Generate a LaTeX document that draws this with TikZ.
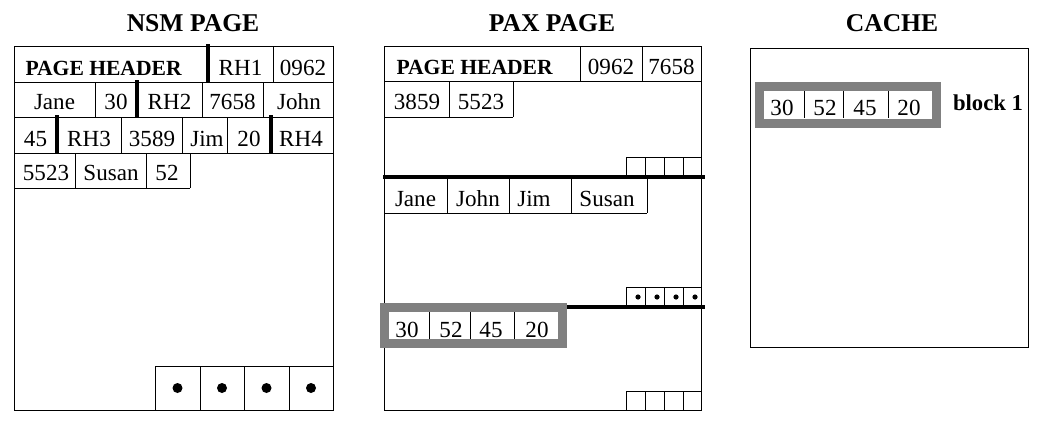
\documentclass[tikz,border=0pt]{standalone}
\usepackage{fontspec}
\setmainfont{Liberation Serif}
\usepackage{tikz}
\usetikzlibrary{shapes,arrows}

\begin{document}
\begin{tikzpicture}[x=0.75pt,y=0.75pt,yscale=-1,line width=0.75pt,
  cell/.style={anchor=base,inner sep=0pt,font=\fontsize{17.3}{19}\selectfont},
  hdr/.style={anchor=base west,inner sep=0pt,font=\fontsize{16.2}{18}\selectfont\bfseries},
  ttl/.style={anchor=base,inner sep=0pt,font=\fontsize{19.2}{21}\selectfont\bfseries},
  bar/.style={line width=3pt},
  rulebar/.style={line width=2.6pt},
  grayframe/.style={draw={rgb,255:red,128;green,128;blue,128},line width=6.75pt}]
\useasboundingbox (0,0) rectangle (1048,425);

%Shape: Rectangle [NSM page]
\draw   (14,46) rectangle (333,410) ;
%Straight Lines [rows]
\draw    (14,82) -- (333,82) (273,46) -- (273,82) ;
\draw    (14,117) -- (333,117) (95,82) -- (95,117) (202,82) -- (202,117) (263,82) -- (263,117) ;
\draw    (14,153) -- (333,153) (121,117) -- (121,153) (182,117) -- (182,153) (227,117) -- (227,153) ;
\draw    (14,188) -- (190,188) (75,153) -- (75,188) (146,153) -- (146,188) (190,153) -- (190,188) ;
%Straight Lines [record headers]
\draw [bar]   (208,44) -- (208,83) ;
\draw [bar]   (137,80) -- (137,118) ;
\draw [bar]   (57,115) -- (57,154) ;
\draw [bar]   (271,115) -- (271,154) ;
%Shape: offset slots
\draw    (155,410) -- (155,366) -- (333,366) (200,366) -- (200,410) (244,366) -- (244,410) (289,366) -- (289,410) ;
\fill    (177.5,388) circle (5) (222,388) circle (5) (266.5,388) circle (5) (311,388) circle (5) ;

%Shape: Rectangle [PAX page]
\draw   (384,46) rectangle (701,410) ;
%Straight Lines [header and first minipage]
\draw    (384,81) -- (701,81) (580,46) -- (580,81) (642,46) -- (642,81) ;
\draw    (384,117) -- (513,117) (449,81) -- (449,117) (513,81) -- (513,117) ;
\draw    (626,177) -- (626,157) -- (701,157) (645,157) -- (645,177) (664,157) -- (664,177) (683,157) -- (683,177) ;
\draw [rulebar]   (383,177) -- (705,177) ;
%Straight Lines [second minipage]
\draw    (384,213) -- (647,213) (447,177) -- (447,213) (509,177) -- (509,213) (571,177) -- (571,213) (647,177) -- (647,213) ;
\draw    (626,307) -- (626,287) -- (701,287) (645,287) -- (645,307) (664,287) -- (664,307) (683,287) -- (683,307) ;
\fill    (638,297) circle (2.6) (657,297) circle (2.6) (676,297) circle (2.6) (695,297) circle (2.6) ;
\draw [rulebar]   (563,307) -- (705,307) ;
%Straight Lines [third minipage]
\draw    (626,410) -- (626,391) -- (701,391) (645,391) -- (645,410) (664,391) -- (664,410) (683,391) -- (683,410) ;
%Shape: Rectangle [gray block in PAX]
\fill [white]   (389,312) rectangle (558,339) ;
\draw    (429,312) -- (429,339) (470,312) -- (470,339) (514,312) -- (514,339) ;
\draw [grayframe]   (384.5,307.5) rectangle (562.5,343.5) ;

%Shape: Rectangle [cache]
\draw   (750,48) rectangle (1028,347) ;
\draw    (804,91) -- (804,118) (843,91) -- (843,118) (888,91) -- (888,118) ;
\draw [grayframe]   (759.5,86) rectangle (936,123) ;

% Text Node
\node [ttl] (nsmTitle) at (193,31.5) {NSM PAGE};
\node [ttl] (paxTitle) at (552,31.5) {PAX PAGE};
\node [ttl] (cacheTitle) at (892,31.5) {CACHE};
% Text Node
\node [hdr] (nsmHeader) at (25,75) {PAGE HEADER};
\node [cell] (nsmRHa) at (240.5,75) {RH1};
\node [cell] (nsmIdA) at (303,75) {0962};
\node [cell] (nsmNameA) at (54.5,109) {Jane};
\node [cell] (nsmAgeA) at (116,109) {30};
\node [cell] (nsmRHb) at (169.5,109) {RH2};
\node [cell] (nsmIdB) at (232.5,109) {7658};
\node [cell] (nsmNameB) at (299,109) {John};
\node [cell] (nsmAgeB) at (35.5,146) {45};
\node [cell] (nsmRHc) at (89,146) {RH3};
\node [cell] (nsmIdC) at (152,146) {3589};
\node [cell] (nsmNameC) at (207,146) {Jim};
\node [cell] (nsmAgeC) at (249,146) {20};
\node [cell] (nsmRHd) at (301,146) {RH4};
\node [cell] (nsmIdD) at (46,180) {5523};
\node [cell] (nsmNameD) at (111,180) {Susan};
\node [cell] (nsmAgeD) at (167,180) {52};
% Text Node
\node [hdr] (paxHeader) at (396,74) {PAGE HEADER};
\node [cell] (paxIdA) at (611,74) {0962};
\node [cell] (paxIdB) at (671.5,74) {7658};
\node [cell] (paxIdC) at (417,109) {3859};
\node [cell] (paxIdD) at (481,109) {5523};
\node [cell] (paxNameA) at (415.5,206.5) {Jane};
\node [cell] (paxNameB) at (478,206.5) {John};
\node [cell] (paxNameC) at (534,206.5) {Jim};
\node [cell] (paxNameD) at (607,206.5) {Susan};
\node [cell] (paxAgeA) at (407,337) {30};
\node [cell] (paxAgeB) at (451,337) {52};
\node [cell] (paxAgeC) at (491,337) {45};
\node [cell] (paxAgeD) at (537,337) {20};
% Text Node
\node [cell] (cacheAgeA) at (782,115) {30};
\node [cell] (cacheAgeB) at (825,115) {52};
\node [cell] (cacheAgeC) at (865,115) {45};
\node [cell] (cacheAgeD) at (909,115) {20};
\node [cell,font=\fontsize{17}{19}\selectfont\bfseries] (blockLabel) at (988,110) {block 1};

\end{tikzpicture}
\end{document}
